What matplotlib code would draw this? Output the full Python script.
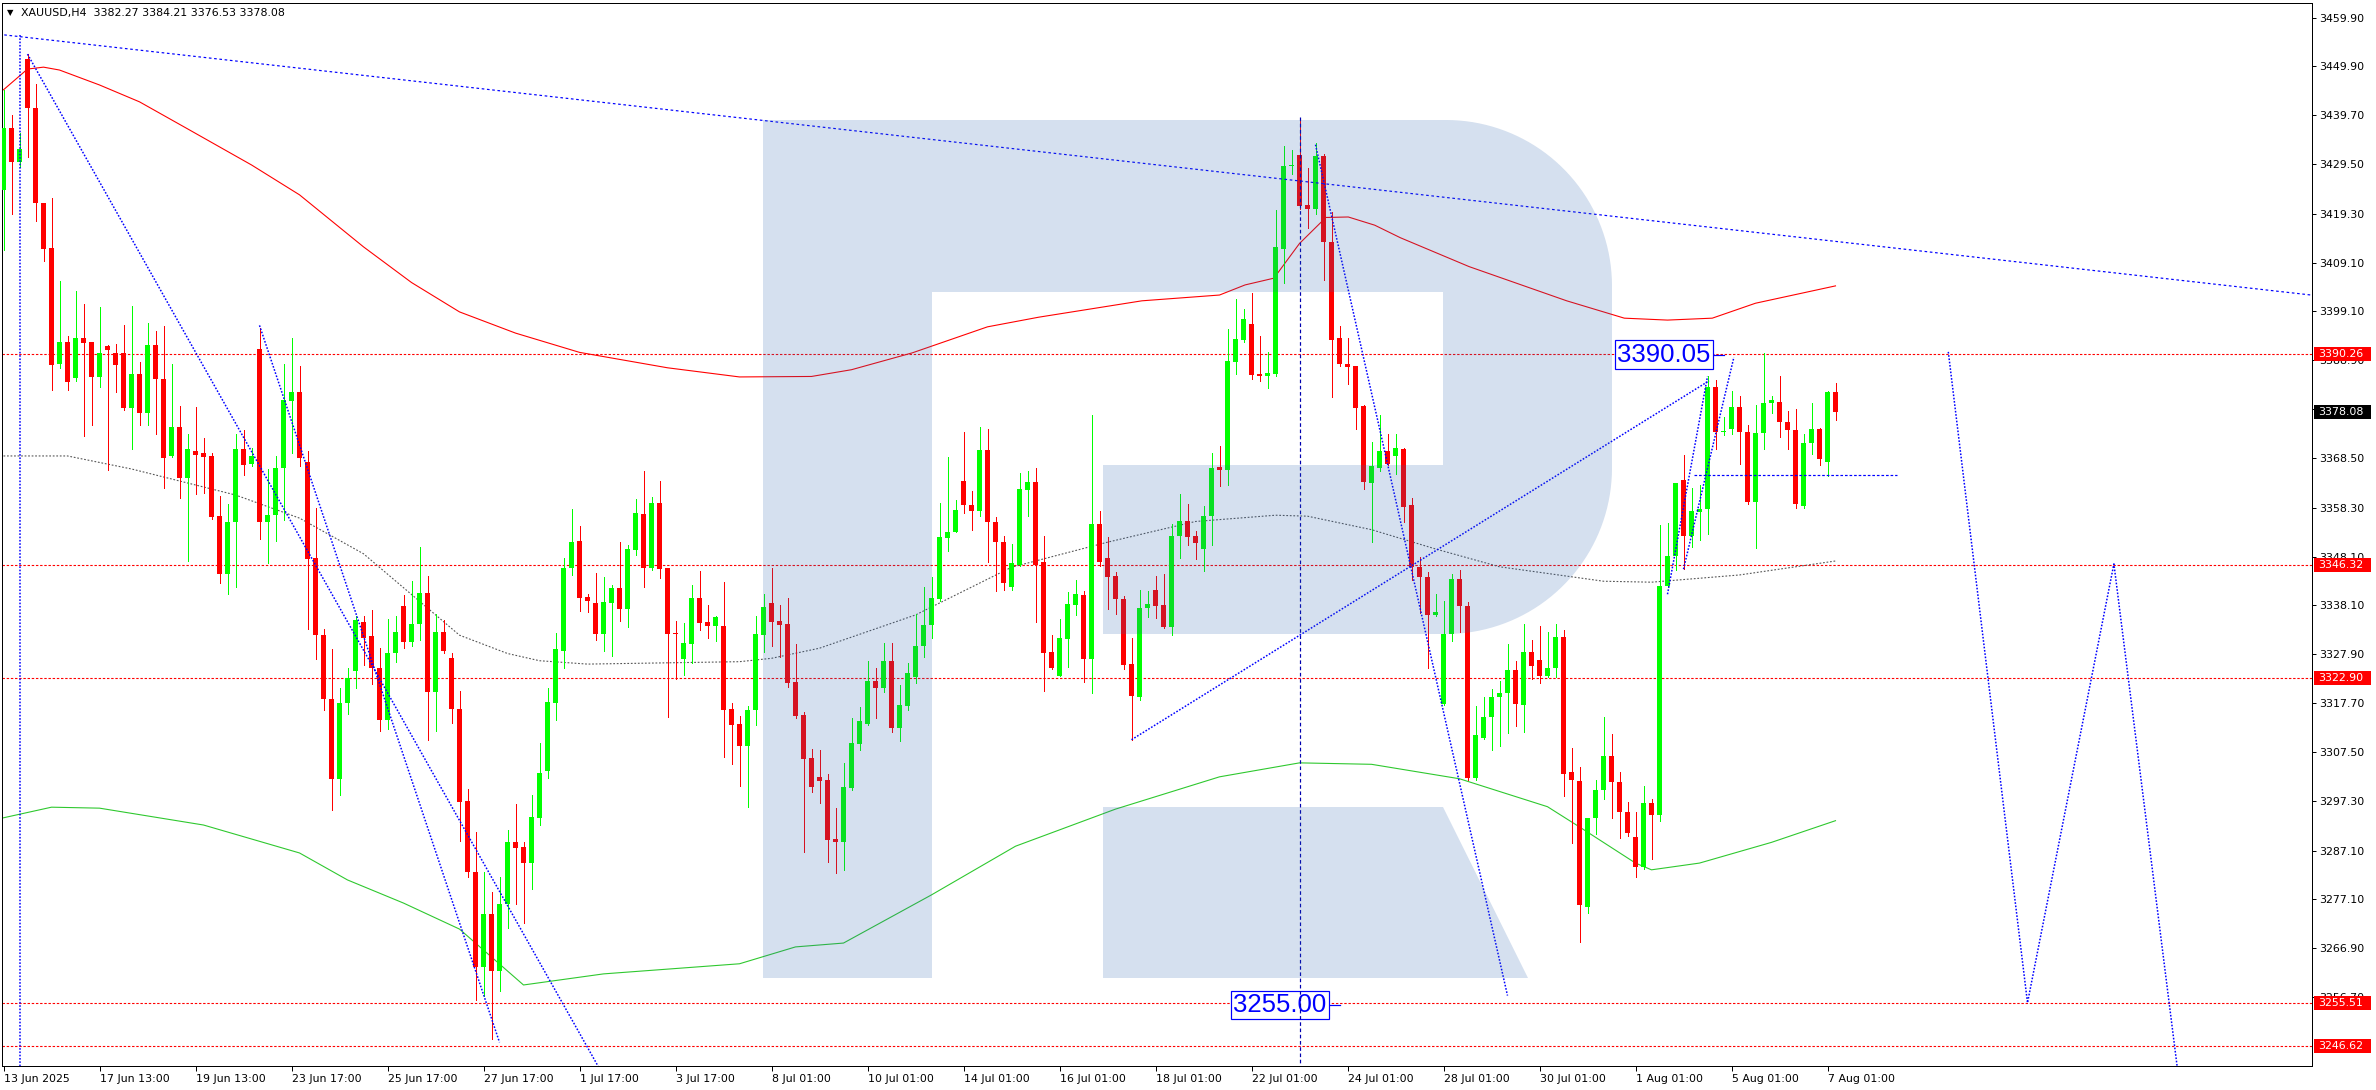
import numpy as np
import matplotlib
matplotlib.use('Agg')
import matplotlib.pyplot as plt
from matplotlib.patches import Polygon, Rectangle
import matplotlib.transforms as mtransforms

W, H, DPI = 2376, 1090, 100
PX = 72.0 / DPI

# ---------------- data ----------------
opens = [3424.2,3437.0,3430.0,3451.4,3441.3,3421.6,3412.2,3388.0,3392.6,3385.1,
 3393.5,3392.6,3385.3,3391.8,3390.3,3390.3,3378.9,3386.1,3378.0,3392.1,
 3385.0,3369.0,3375.0,3364.4,3370.1,3369.6,3369.0,3356.6,3344.6,3355.2,
 3370.4,3367.4,3391.2,3355.2,3356.8,3366.6,3380.4,3382.3,3367.7,3347.9,
 3331.9,3318.6,3302.0,3317.8,3324.3,3334.5,3331.6,3325.0,3314.3,3328.1,
 3337.9,3330.3,3334.1,3340.6,3320.0,3332.4,3327.0,3316.5,3297.4,3282.7,
 3263.0,3274.0,3262.0,3276.0,3288.9,3287.8,3284.5,3293.9,3303.7,3317.7,
 3328.6,3345.7,3351.3,3339.7,3338.5,3332.0,3338.5,3341.6,3337.3,3349.5,
 3356.9,3345.8,3359.2,3345.7,3332.2,3326.8,3330.0,3339.5,3334.6,3333.8,
 3333.7,3316.5,3313.3,3308.8,3316.2,3331.8,3338.5,3334.7,3334.1,3322.1,
 3315.2,3306.3,3302.3,3301.7,3289.5,3288.9,3300.1,3309.2,3313.3,3322.3,
 3320.8,3326.4,3312.6,3317.2,3323.1,3329.5,3333.9,3339.4,3351.9,3353.3,
 3363.9,3358.9,3357.5,3370.3,3355.3,3351.1,3341.8,3346.4,3362.0,3363.5,
 3346.9,3328.3,3323.4,3331.1,3338.1,3340.2,3326.9,3354.8,3347.8,3344.0,
 3339.4,3325.8,3318.9,3337.5,3341.1,3338.1,3333.4,3352.3,3355.6,3352.4,
 3349.6,3356.5,3366.7,3366.0,3388.6,3393.1,3396.3,3386.0,3385.5,3386.0,
 3412.0,3429.2,3431.5,3421.0,3420.2,3431.2,3413.4,3393.4,3388.1,3387.6,
 3379.3,3363.4,3366.6,3370.1,3368.9,3370.4,3358.9,3345.9,3343.9,3336.0,
 3317.6,3332.0,3343.5,3337.9,3302.2,3310.5,3314.8,3318.9,3319.9,3324.6,
 3317.4,3328.4,3326.7,3323.3,3325.0,3331.4,3303.3,3301.6,3275.4,3293.9,
 3299.7,3306.8,3301.4,3295.0,3290.0,3283.7,3296.9,3294.5,3342.0,3348.3,
 3364.0,3352.3,3357.4,3358.0,3383.3,3373.9,3374.5,3379.2,3374.0,3359.4,
 3373.7,3379.9,3380.1,3376.0,3374.4,3358.7,3371.6,3374.5,3367.8,3382.27]
highs = [3444.9,3439.8,3436.0,3452.4,3446.3,3421.6,3422.5,3405.3,3393.9,3403.2,
 3400.5,3392.6,3399.9,3392.0,3392.3,3396.1,3400.2,3388.5,3396.6,3395.0,
 3395.9,3388.0,3379.3,3373.6,3379.1,3372.8,3369.6,3360.6,3359.0,3373.6,
 3374.4,3370.6,3395.6,3366.3,3369.0,3388.0,3393.4,3387.7,3370.1,3358.2,
 3333.0,3328.9,3320.9,3325.0,3335.8,3335.8,3337.0,3329.1,3335.1,3335.8,
 3340.2,3343.0,3350.1,3344.0,3336.2,3334.9,3328.1,3320.3,3299.9,3290.9,
 3282.7,3278.4,3281.7,3291.4,3296.7,3288.9,3298.6,3309.4,3320.9,3332.2,
 3347.9,3358.0,3354.4,3340.3,3344.8,3343.9,3342.2,3351.1,3350.5,3360.1,
 3365.9,3360.5,3363.8,3345.7,3334.7,3334.3,3342.2,3345.1,3338.0,3335.8,
 3342.8,3317.7,3315.0,3317.2,3335.8,3340.3,3345.7,3338.1,3339.5,3330.0,
 3315.8,3308.2,3308.0,3303.0,3295.9,3305.3,3314.6,3316.9,3326.4,3325.0,
 3330.2,3330.2,3321.4,3326.0,3336.3,3341.7,3343.9,3359.3,3368.8,3359.9,
 3374.0,3361.7,3375.0,3374.6,3356.3,3352.3,3350.8,3365.4,3365.9,3366.5,
 3352.3,3331.8,3335.2,3340.7,3343.3,3340.9,3377.6,3357.5,3352.2,3344.9,
 3339.9,3331.2,3341.1,3340.9,3344.1,3344.4,3354.8,3361.2,3359.1,3353.5,
 3358.7,3369.7,3371.0,3395.4,3401.5,3399.5,3402.8,3393.9,3390.5,3420.1,
 3433.4,3432.5,3438.9,3428.7,3433.9,3431.6,3419.7,3396.0,3393.5,3387.6,
 3379.5,3372.0,3377.4,3373.5,3373.5,3370.7,3360.3,3348.0,3344.9,3340.4,
 3338.9,3344.4,3345.4,3338.7,3317.2,3318.9,3320.7,3322.2,3330.0,3326.5,
 3334.2,3330.9,3333.7,3332.5,3334.1,3332.9,3308.4,3304.5,3293.9,3301.7,
 3314.9,3311.2,3303.3,3297.2,3295.2,3300.4,3297.7,3354.7,3355.1,3363.4,
 3369.1,3362.4,3362.9,3385.5,3384.7,3377.1,3382.4,3381.4,3375.4,3379.5,
 3390.3,3381.4,3385.5,3378.4,3378.8,3373.5,3379.9,3374.9,3382.4,3384.21]
lows = [3411.7,3419.2,3429.0,3431.0,3417.8,3409.4,3382.6,3387.3,3382.6,3384.6,
 3373.1,3375.5,3383.3,3366.1,3382.3,3378.5,3370.4,3375.5,3375.5,3373.6,
 3362.3,3368.8,3360.2,3347.3,3361.2,3361.4,3356.0,3342.6,3340.3,3341.9,
 3365.0,3367.0,3351.7,3346.7,3351.4,3355.7,3369.6,3367.0,3333.1,3326.8,
 3316.2,3295.5,3298.6,3315.5,3320.9,3325.7,3321.6,3311.9,3312.4,3326.2,
 3329.1,3329.5,3330.8,3310.1,3311.9,3328.1,3313.5,3289.1,3281.7,3256.0,
 3257.0,3248.0,3258.0,3271.0,3276.0,3272.0,3279.1,3292.4,3302.1,3314.2,
 3324.9,3344.3,3336.8,3336.7,3330.7,3328.5,3327.4,3334.7,3333.6,3348.4,
 3341.9,3345.4,3343.7,3314.9,3322.8,3323.5,3326.0,3332.9,3331.2,3330.6,
 3306.5,3305.1,3300.5,3296.1,3313.1,3328.4,3329.6,3327.3,3321.0,3314.7,
 3286.9,3299.2,3297.0,3284.7,3282.4,3283.0,3299.7,3307.9,3313.1,3314.6,
 3320.0,3311.7,3309.8,3316.3,3321.9,3327.3,3331.2,3338.8,3349.2,3353.2,
 3357.1,3353.6,3356.6,3347.0,3340.9,3341.2,3341.2,3346.2,3356.6,3334.5,
 3320.3,3324.8,3323.4,3325.2,3335.9,3322.1,3319.7,3346.2,3337.3,3336.1,
 3324.8,3310.1,3318.4,3335.6,3335.4,3333.2,3331.8,3347.9,3350.5,3347.6,
 3345.1,3350.6,3362.7,3362.9,3386.0,3392.6,3385.0,3384.6,3383.2,3385.6,
 3404.8,3427.6,3420.3,3416.4,3419.3,3405.5,3381.3,3387.6,3384.0,3374.5,
 3362.1,3351.2,3365.8,3367.2,3365.2,3355.2,3343.2,3336.5,3324.9,3335.7,
 3317.3,3330.5,3332.4,3301.7,3301.7,3310.2,3307.9,3308.9,3311.5,3312.9,
 3311.8,3322.7,3321.9,3323.2,3323.2,3298.4,3288.7,3268.2,3274.1,3290.6,
 3297.9,3293.9,3289.8,3290.2,3281.6,3283.3,3285.4,3293.2,3341.9,3345.4,
 3345.5,3350.2,3351.6,3352.9,3370.5,3373.3,3373.5,3367.4,3359.0,3349.9,
 3370.5,3378.0,3372.9,3370.5,3358.1,3358.1,3369.5,3367.2,3364.9,3376.53]
closes = [3437.0,3430.0,3432.7,3441.3,3421.6,3412.0,3387.9,3392.6,3384.3,3393.4,
 3392.5,3385.3,3390.4,3391.0,3387.9,3378.9,3386.1,3378.0,3392.1,3385.0,
 3368.5,3375.0,3364.4,3370.4,3369.3,3368.8,3356.3,3344.6,3355.2,3370.4,
 3367.1,3369.0,3355.2,3356.8,3366.6,3380.7,3382.3,3368.5,3347.6,3331.9,
 3318.6,3302.0,3317.8,3322.9,3334.9,3331.3,3325.0,3314.3,3328.1,3332.4,
 3330.3,3334.1,3340.6,3320.0,3332.4,3328.6,3316.5,3297.2,3282.7,3263.0,
 3274.0,3262.0,3276.0,3288.9,3287.7,3284.5,3294.1,3303.2,3318.0,3328.9,
 3345.7,3351.2,3339.6,3338.9,3332.0,3338.6,3341.6,3337.3,3349.7,3357.1,
 3345.8,3359.2,3345.6,3332.0,3332.1,3330.2,3339.5,3334.4,3333.8,3335.6,
 3316.3,3313.1,3308.8,3316.2,3332.0,3337.6,3334.5,3333.9,3321.9,3315.0,
 3306.1,3300.3,3301.6,3289.3,3288.9,3300.3,3309.4,3314.0,3322.3,3320.8,
 3326.4,3312.6,3317.3,3323.9,3329.6,3334.0,3339.5,3352.1,3353.3,3357.8,
 3358.8,3357.5,3370.3,3355.2,3351.1,3342.7,3346.7,3362.2,3363.5,3346.4,
 3328.0,3325.0,3331.2,3338.3,3340.3,3326.9,3354.8,3346.9,3343.8,3339.3,
 3325.7,3319.2,3337.5,3338.3,3337.9,3333.4,3352.4,3355.6,3352.2,3350.9,
 3356.5,3366.6,3366.0,3388.7,3393.3,3397.4,3385.8,3385.5,3386.2,3412.3,
 3429.2,3429.4,3420.8,3420.3,3431.2,3413.4,3393.1,3388.0,3387.5,3379.0,
 3363.6,3367.0,3370.1,3367.4,3370.7,3358.4,3345.9,3343.9,3336.0,3336.6,
 3332.0,3343.5,3337.9,3302.2,3311.0,3314.8,3319.0,3319.9,3324.6,3317.5,
 3328.4,3325.5,3323.3,3325.0,3331.4,3303.0,3301.7,3275.8,3293.9,3299.7,
 3306.8,3301.4,3295.0,3290.7,3283.7,3296.9,3294.5,3342.0,3348.3,3363.4,
 3352.3,3357.6,3358.0,3383.3,3374.0,3374.2,3379.2,3373.9,3359.4,3373.7,
 3380.0,3380.6,3376.0,3374.3,3359.0,3371.6,3374.5,3368.4,3382.2,3378.08]

# moving averages (bar index, price)
red_ma_x = [0, 3, 5, 7, 12, 17, 23, 31, 37, 45, 51, 57, 64, 72, 83, 92, 101, 106, 113.6,
            123, 129.4, 142.3, 152, 155.2, 158.8, 162, 165.3, 168.1, 171.4, 174.6,
            183.2, 195.4, 202.6, 208, 213.6, 219, 229]
red_ma_y = [3445.0, 3449.3, 3449.7, 3449.1, 3446.0, 3442.5, 3436.9, 3429.4, 3423.2,
            3412.4, 3405.0, 3398.9, 3394.5, 3390.5, 3387.3, 3385.4, 3385.5, 3386.9, 3390.4,
            3395.8, 3397.8, 3401.2, 3402.4, 3404.5, 3405.9, 3413.1, 3418.5, 3418.6,
            3416.9, 3414.3, 3408.3, 3401.2, 3397.6, 3397.2, 3397.6, 3400.7, 3404.3]
gray_ma_x = [0, 8, 16, 29, 37, 45, 57, 63, 67, 73, 92, 96, 102, 114, 126, 138, 149,
             159, 163, 171, 179, 187, 200, 206, 217, 229]
gray_ma_y = [3369.0, 3369.0, 3366.3, 3360.9, 3356.1, 3348.7, 3331.8, 3328.0, 3326.5,
             3325.8, 3326.3, 3327.0, 3329.1, 3336.0, 3345.9, 3351.1, 3355.4, 3356.7,
             3356.5, 3353.7, 3349.7, 3346.0, 3343.0, 3342.8, 3344.3, 3347.2]
green_ma_x = [0, 6, 12, 25, 37, 43, 50, 57, 65, 75, 92, 99, 105, 116, 126.5, 139, 152,
              162, 171, 182, 193, 197, 204, 206, 212, 221, 229]
green_ma_y = [3293.9, 3296.1, 3295.9, 3292.4, 3286.6, 3281.0, 3276.2, 3270.8, 3259.2,
              3261.5, 3263.6, 3267.1, 3267.9, 3277.9, 3288.0, 3295.7, 3302.4, 3305.3,
              3305.0, 3302.0, 3296.2, 3292.0, 3284.5, 3283.1, 3284.5, 3288.8, 3293.3]

# analysis objects (bar index, price)
trend_x, trend_y = [-1, 289], [3456.6, 3402.3]
vline_left_x, vline_left_y = [2, 2], [3456.4, 3235.0]
line_c_x, line_c_y = [3, 76], [3452.4, 3237.4]
line_d_x, line_d_y = [32, 62], [3396.1, 3247.3]
line_e_x, line_e_y = [141, 213.2], [3310.1, 3384.6]
line_f_x, line_f_y = [164, 188], [3433.6, 3257.0]
line_g1_x, line_g1_y = [208, 213], [3340.3, 3385.5]
line_g2_x, line_g2_y = [210, 216.3], [3345.5, 3389.5]
hline_x, hline_y = [211.3, 236.7], [3365.0, 3365.0]
fc_x = [243.1, 253, 263.8, 272.5]
fc_y = [3390.6, 3255.5, 3346.6, 3231.8]
vline_mid_x, vline_mid_y = [162, 162], [3439.4, 3235.0]

levels = [3390.26, 3346.32, 3322.90, 3255.51, 3246.62]
last_price = 3378.08
box_labels = [("3390.05", 213.7, 3390.05), ("3255.00", 165.7, 3255.00)]

y_ticks = [3459.90, 3449.90, 3439.70, 3429.50, 3419.30, 3409.10, 3399.10, 3388.90,
           3378.70, 3368.50, 3358.30, 3348.10, 3338.10, 3327.90, 3317.70, 3307.50,
           3297.30, 3287.10, 3277.10, 3266.90, 3256.70]
x_tick_bars = list(range(0, 229, 12))
x_tick_labels = ["13 Jun 2025", "17 Jun 13:00", "19 Jun 13:00", "23 Jun 17:00",
                 "25 Jun 17:00", "27 Jun 17:00", "1 Jul 17:00", "3 Jul 17:00",
                 "8 Jul 01:00", "10 Jul 01:00", "14 Jul 01:00", "16 Jul 01:00",
                 "18 Jul 01:00", "22 Jul 01:00", "24 Jul 01:00", "28 Jul 01:00",
                 "30 Jul 01:00", "1 Aug 01:00", "5 Aug 01:00", "7 Aug 01:00"]
title = "XAUUSD,H4  3382.27 3384.21 3376.53 3378.08"

# ---------------- figure ----------------
plt.rcParams['font.family'] = ['DejaVu Sans']
fig = plt.figure(figsize=(W / DPI, H / DPI), dpi=DPI, facecolor='white')
L, R, T, B = 2, 2312, 3, 1066
ax = fig.add_axes([L / W, (H - B) / H, (R - L) / W, (B - T) / H])
ax.set_facecolor('white')
ax.set_xlim((L - 3.5) / 8.0, (R - 3.5) / 8.0)
ax.set_ylim(3459.9 - (B - 18) / 4.818, 3459.9 + (18 - T) / 4.818)

o = np.array(opens); h = np.array(highs); l = np.array(lows); c = np.array(closes)
xs = np.arange(len(o))
up = c >= o
col = np.where(up, '#00ff00', '#ff0000')
lw1 = 1.0 * PX
ax.vlines(xs, l, h, colors=col, linewidth=1.0 * PX, zorder=3, antialiased=False)
bot = np.minimum(o, c)
hgt = np.maximum(np.abs(c - o), 0.25)
ax.bar(xs, hgt, bottom=bot, width=0.62, color=col, linewidth=0, zorder=3,
       antialiased=False)

# moving averages
ax.plot(red_ma_x, red_ma_y, color='#ff0000', lw=1.1 * PX, zorder=2)
ax.plot(green_ma_x, green_ma_y, color='#2ec82e', lw=1.1 * PX, zorder=2)
ax.plot(gray_ma_x, gray_ma_y, color='#555555', lw=1.1 * PX, ls=(0, (1.6, 1.6)), zorder=2)

# horizontal levels
for lv in levels:
    ax.axhline(lv, color='#ff0000', lw=1.1 * PX, ls=(0, (2.2, 1.6)), zorder=1)

blue = '#0000ff'
dot = (0, (1.1, 1.1))
ax.plot(trend_x, trend_y, color=blue, lw=1.2 * PX, ls=(0, (2.2, 2.2)), zorder=4)
for xx, yy in [(vline_left_x, vline_left_y), (line_c_x, line_c_y), (line_d_x, line_d_y),
               (line_e_x, line_e_y), (line_f_x, line_f_y), (line_g1_x, line_g1_y),
               (line_g2_x, line_g2_y), (fc_x, fc_y)]:
    ax.plot(xx, yy, color=blue, lw=1.5 * PX, ls=dot, zorder=4)
ax.plot(hline_x, hline_y, color=blue, lw=1.2 * PX, ls=(0, (2.2, 1.6)), zorder=4)
ax.plot(vline_mid_x, vline_mid_y, color='#0000b0', lw=1.2 * PX, ls=(0, (3, 2.2)), zorder=6)

# boxed price labels
for txt, bx, by in box_labels:
    ax.plot([bx, bx + 1.4], [by, by], color=blue, lw=1.2 * PX, zorder=5)
    ax.text(bx - 0.3, by, txt, ha='right', va='center', fontsize=18.5,
            family='Liberation Sans', color=blue, zorder=5,
            bbox=dict(boxstyle='square,pad=0.08', fc='white', ec=blue, lw=1.2 * PX))

# axes styling
for s in ax.spines.values():
    s.set_linewidth(1.0 * PX)
    s.set_color('black')
ax.yaxis.tick_right()
ax.set_yticks(y_ticks)
ax.set_yticklabels([f"{v:.2f}" for v in y_ticks])
ax.tick_params(axis='y', direction='out', length=4 * PX, width=lw1, pad=3 * PX,
               labelsize=7.9, colors='black')
ax.set_xticks(x_tick_bars)
ax.set_xticklabels(x_tick_labels)
ax.tick_params(axis='x', direction='out', length=5 * PX, width=lw1, pad=3 * PX,
               labelsize=7.9, colors='black')
for lab in ax.get_xticklabels():
    lab.set_horizontalalignment('left')

# right-axis price tags
tr = mtransforms.blended_transform_factory(fig.transFigure, ax.transData)
half = 7.0 / 4.818
for lv in levels + [last_price]:
    fc = 'black' if lv == last_price else '#ff0000'
    ax.add_patch(Rectangle((2314 / W, lv - half), 57 / W, 2 * half, transform=tr,
                           facecolor=fc, edgecolor='none', clip_on=False, zorder=10))
    ax.text(2318 / W, lv, f"{lv:.2f}", transform=tr, color='white', fontsize=7.9,
            ha='left', va='center', clip_on=False, zorder=11)

# title
fig.text(7 / W, 1 - 13 / H, "\u25BC", fontsize=6, va='center', ha='left', color='black')
fig.text(21 / W, 1 - 13 / H, title, fontsize=7.9, va='center', ha='left', color='black')

# watermark logo (overlay)
def P(pts):
    return [(x / W, 1 - y / H) for x, y in pts]

def arc(cx, cy, r, a0, a1, n=40):
    t = np.radians(np.linspace(a0, a1, n))
    return list(zip(cx + r * np.cos(t), cy - r * np.sin(t)))

wm_col, wm_alpha = '#2d64af', 0.2
shapes = [
    [(763, 120), (932, 120), (932, 978), (763, 978)],
    [(932, 120), (1443, 120), (1443, 292), (932, 292)],
    [(1443, 120)] + arc(1446, 286, 166, 90, 0) + arc(1446, 468, 166, 0, -90) + [(1443, 634)],
    [(1103, 465), (1443, 465), (1443, 634), (1103, 634)],
    [(1103, 807), (1443, 807), (1528, 978), (1103, 978)],
]
for s in shapes:
    fig.add_artist(Polygon(P(s), closed=True, transform=fig.transFigure,
                           facecolor=wm_col, edgecolor='none', alpha=wm_alpha, zorder=5))

fig.savefig('out.png', dpi=DPI, facecolor='white')
